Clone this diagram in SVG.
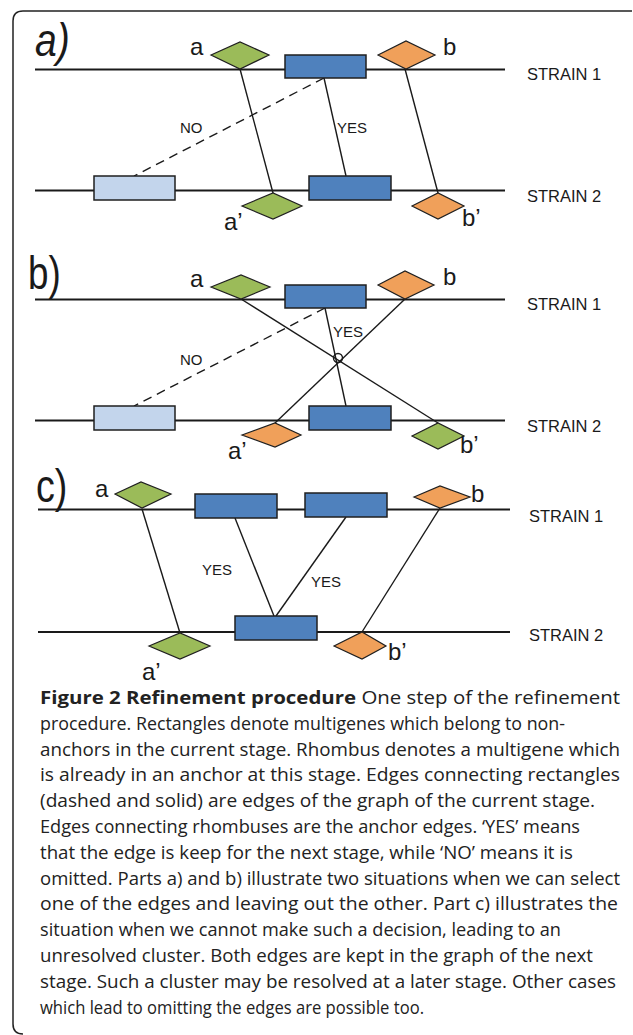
<svg xmlns="http://www.w3.org/2000/svg" width="633" height="1035" viewBox="0 0 633 1035">
  <style>
    .frame { fill: none; stroke: #222; stroke-width: 1.5; }
    .strain { stroke: #1a1a1a; stroke-width: 1.8; fill: none; }
    .edge { stroke: #1a1a1a; stroke-width: 1.4; fill: none; }
    .dash { stroke: #1a1a1a; stroke-width: 1.4; fill: none; stroke-dasharray: 9 6; }
    .gene { fill: #4F81BD; stroke: #1f1f1f; stroke-width: 1.5; }
    .gene-light { fill: #C3D5EC; stroke: #1f1f1f; stroke-width: 1.5; }
    .green { fill: #9BBB59; stroke: #1f1f1f; stroke-width: 1.2; }
    .orange { fill: #F0A05A; stroke: #1f1f1f; stroke-width: 1.2; }
    .lbl { font-family: "Liberation Sans", Arial, sans-serif; fill: #1a1a1a; }
    .part { font-size: 46px; }
    .anc { font-size: 24px; }
    .strainlbl { font-size: 16.5px; }
    .yn { font-size: 15px; }
    .cap { font-family: "Open Sans", "Noto Sans", sans-serif; font-size: 18px; fill: #222; }
    .capb { font-weight: bold; }
  </style>

  <!-- outer frame -->
  <path class="frame" d="M632,11 H23 Q13,11 13,21 V1024 Q13,1034 23,1034"/>

  <!-- ===== part a ===== -->
  <g id="part-a">
    <text class="lbl part" transform="translate(35,56) scale(0.85,1)" font-style="italic" font-size="42">a)</text>
    <line class="strain" x1="35" y1="69.5" x2="505" y2="69.5"/>
    <line class="strain" x1="35" y1="190.5" x2="505" y2="190.5"/>
    <text class="lbl strainlbl" x="527" y="80">STRAIN 1</text>
    <text class="lbl strainlbl" x="527" y="202">STRAIN 2</text>

    <g id="a-edges">
      <line class="edge" x1="240" y1="69" x2="273" y2="193"/>
      <line class="edge" x1="405" y1="69" x2="438" y2="193"/>
      <line class="edge" x1="324" y1="78" x2="346" y2="176"/>
      <line class="dash" x1="324" y1="78" x2="134" y2="176"/>
      <text class="lbl yn" x="180" y="133">NO</text>
      <text class="lbl yn" x="337" y="133">YES</text>
    </g>

    <g id="a-gene-s1"><rect class="gene" x="285" y="55" width="81" height="23"/></g>
    <g id="a-gene-s2-left"><rect class="gene-light" x="94" y="176" width="81" height="24"/></g>
    <g id="a-gene-s2-right"><rect class="gene" x="309" y="176" width="82" height="24"/></g>

    <g id="a-anchor-a"><polygon class="green" points="211,55 240,42 269,55 240,69"/>
      <text class="lbl anc" x="190" y="55">a</text></g>
    <g id="a-anchor-b"><polygon class="orange" points="378,55 406,41 435,55 406,69"/>
      <text class="lbl anc" x="443" y="55">b</text></g>
    <g id="a-anchor-a2"><polygon class="green" points="242,206 273,193 302,206 273,219"/>
      <text class="lbl anc" x="224" y="230">a’</text></g>
    <g id="a-anchor-b2"><polygon class="orange" points="412,206 438,193 464,206 438,219"/>
      <text class="lbl anc" x="462" y="226">b’</text></g>
  </g>

  <!-- ===== part b ===== -->
  <g id="part-b">
    <text class="lbl part" transform="translate(28,289) scale(0.8,1)">b)</text>
    <line class="strain" x1="35" y1="299.5" x2="505" y2="299.5"/>
    <line class="strain" x1="35" y1="420.5" x2="505" y2="420.5"/>
    <text class="lbl strainlbl" x="527" y="310">STRAIN 1</text>
    <text class="lbl strainlbl" x="527" y="432">STRAIN 2</text>

    <g id="b-edges">
      <line class="edge" x1="241" y1="299" x2="438" y2="423"/>
      <line class="edge" x1="405" y1="299" x2="275" y2="423"/>
      <line class="edge" x1="325" y1="308" x2="346" y2="406"/>
      <circle class="edge" cx="338" cy="358" r="4.5" fill="#fff"/>
      <line class="dash" x1="325" y1="308" x2="134" y2="406"/>
      <text class="lbl yn" x="180" y="365">NO</text>
      <text class="lbl yn" x="333" y="337">YES</text>
    </g>

    <g id="b-gene-s1"><rect class="gene" x="285" y="285" width="81" height="23"/></g>
    <g id="b-gene-s2-left"><rect class="gene-light" x="94" y="406" width="81" height="24"/></g>
    <g id="b-gene-s2-right"><rect class="gene" x="309" y="406" width="82" height="24"/></g>

    <g id="b-anchor-a"><polygon class="green" points="211,287 241,275 270,287 241,299"/>
      <text class="lbl anc" x="190" y="287">a</text></g>
    <g id="b-anchor-b"><polygon class="orange" points="378,285 405,271 434,285 405,299"/>
      <text class="lbl anc" x="443" y="285">b</text></g>
    <g id="b-anchor-a2"><polygon class="orange" points="242,435 275,423 301,435 275,447"/>
      <text class="lbl anc" x="228" y="459">a’</text></g>
    <g id="b-anchor-b2"><polygon class="green" points="412,436 438,423 464,436 438,449"/>
      <text class="lbl anc" x="460" y="453">b’</text></g>
  </g>

  <!-- ===== part c ===== -->
  <g id="part-c">
    <text class="lbl part" transform="translate(36,502) scale(0.82,1)">c)</text>
    <line class="strain" x1="38" y1="509.5" x2="510" y2="509.5"/>
    <line class="strain" x1="38" y1="632" x2="510" y2="632"/>
    <text class="lbl strainlbl" x="529" y="522">STRAIN 1</text>
    <text class="lbl strainlbl" x="529" y="641">STRAIN 2</text>

    <g id="c-edges">
      <line class="edge" x1="142" y1="509" x2="180" y2="633"/>
      <line class="edge" x1="440" y1="508" x2="362" y2="632"/>
      <line class="edge" x1="235" y1="518" x2="274" y2="616"/>
      <line class="edge" x1="346" y1="517" x2="276" y2="616"/>
      <text class="lbl yn" x="202" y="575">YES</text>
      <text class="lbl yn" x="311" y="587">YES</text>
    </g>

    <g id="c-gene-s1-left"><rect class="gene" x="195" y="494" width="82" height="24"/></g>
    <g id="c-gene-s1-right"><rect class="gene" x="305" y="493" width="82" height="24"/></g>
    <g id="c-gene-s2"><rect class="gene" x="235" y="616" width="82" height="24"/></g>

    <g id="c-anchor-a"><polygon class="green" points="115,494 141,482 171,494 142,508"/>
      <text class="lbl anc" x="95" y="497">a</text></g>
    <g id="c-anchor-b"><polygon class="orange" points="414,497 440,486 470,497 440,508"/>
      <text class="lbl anc" x="471" y="502">b</text></g>
    <g id="c-anchor-a2"><polygon class="green" points="149,646 180,633 210,646 180,659"/>
      <text class="lbl anc" x="142" y="680">a’</text></g>
    <g id="c-anchor-b2"><polygon class="orange" points="334,646 362,632 386,646 362,659"/>
      <text class="lbl anc" x="388" y="660">b’</text></g>
  </g>

  <!-- ===== caption ===== -->
  <g id="caption" class="cap">
    <text x="40" y="704" textLength="580" lengthAdjust="spacingAndGlyphs"><tspan class="capb">Figure 2 Refinement procedure</tspan> One step of the refinement</text>
    <text x="40" y="729.8" textLength="525" lengthAdjust="spacingAndGlyphs">procedure. Rectangles denote multigenes which belong to non-</text>
    <text x="40" y="755.6" textLength="580" lengthAdjust="spacingAndGlyphs">anchors in the current stage. Rhombus denotes a multigene which</text>
    <text x="40" y="781.4" textLength="580" lengthAdjust="spacingAndGlyphs">is already in an anchor at this stage. Edges connecting rectangles</text>
    <text x="40" y="807.2" textLength="555" lengthAdjust="spacingAndGlyphs">(dashed and solid) are edges of the graph of the current stage.</text>
    <text x="40" y="833" textLength="540" lengthAdjust="spacingAndGlyphs">Edges connecting rhombuses are the anchor edges. ‘YES’ means</text>
    <text x="40" y="858.8" textLength="533" lengthAdjust="spacingAndGlyphs">that the edge is keep for the next stage, while ‘NO’ means it is</text>
    <text x="40" y="884.6" textLength="580" lengthAdjust="spacingAndGlyphs">omitted. Parts a) and b) illustrate two situations when we can select</text>
    <text x="40" y="910.4" textLength="578" lengthAdjust="spacingAndGlyphs">one of the edges and leaving out the other. Part c) illustrates the</text>
    <text x="40" y="936.2" textLength="521" lengthAdjust="spacingAndGlyphs">situation when we cannot make such a decision, leading to an</text>
    <text x="40" y="962" textLength="553" lengthAdjust="spacingAndGlyphs">unresolved cluster. Both edges are kept in the graph of the next</text>
    <text x="40" y="987.8" textLength="576" lengthAdjust="spacingAndGlyphs">stage. Such a cluster may be resolved at a later stage. Other cases</text>
    <text x="40" y="1013.6" textLength="384" lengthAdjust="spacingAndGlyphs">which lead to omitting the edges are possible too.</text>
  </g>
</svg>
